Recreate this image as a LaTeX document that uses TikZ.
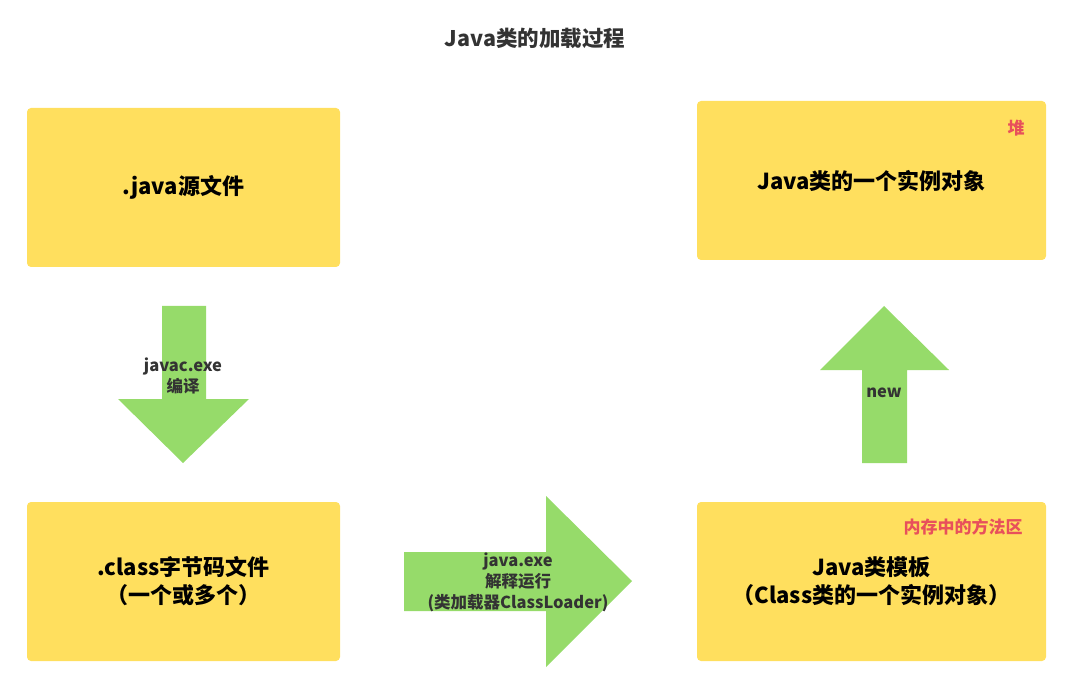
\documentclass[tikz,border=0pt]{standalone}
\usepackage{fontspec}
\setmainfont{Noto Sans CJK SC}
\definecolor{boxyellow}{RGB}{255,223,94}
\definecolor{arrowgreen}{RGB}{150,219,106}
\definecolor{labelgray}{RGB}{51,51,51}
\definecolor{memred}{RGB}{232,80,91}
\tikzset{
  stagebox/.style={fill=boxyellow,rounded corners=4pt,align=center,font=\bfseries\fontsize{22}{28}\selectfont},
  flowlabel/.style={text=labelgray,align=center,font=\bfseries\fontsize{16.5}{21}\selectfont},
  memlabel/.style={text=memred,font=\bfseries\fontsize{17}{20}\selectfont}
}
\begin{document}
\begin{tikzpicture}[x=1pt,y=-1pt]
    \useasboundingbox (0,0) rectangle (1081,700);
    \node[text=labelgray,font=\bfseries\fontsize{21.5}{26}\selectfont] (title) at (535,38) {Java类的加载过程};
    % boxes
    \node[stagebox,minimum width=313pt,minimum height=159pt] (src) at (183.5,187.5) {.java源文件};
    \node[stagebox,minimum width=313pt,minimum height=159pt] (cls) at (183.5,581.5) {.class字节码文件\\（一个或多个）};
    \node[stagebox,minimum width=349pt,minimum height=159pt] (tpl) at (871.5,581.5) {Java类模板\\（Class类的一个实例对象）};
    \node[stagebox,minimum width=349pt,minimum height=159pt] (obj) at (871.5,180.5) {Java类的一个实例对象};
    \node[memlabel] (method) at (963,527) {内存中的方法区};
    \node[memlabel] (heap) at (1016,128) {堆};
    % fat arrows
    \fill[arrowgreen] (162,306) -- (206,306) -- (206,399) -- (249,399) -- (183,463) -- (118,399) -- (162,399) -- cycle;
    \fill[arrowgreen] (404,552) -- (546,552) -- (546,496) -- (632,581) -- (546,667) -- (546,611) -- (404,611) -- cycle;
    \fill[arrowgreen] (862,463) -- (862,370) -- (820,370) -- (884,306) -- (949,370) -- (907,370) -- (907,463) -- cycle;
    \node[flowlabel] (compile) at (183,376) {javac.exe\\编译};
    \node[flowlabel] (run) at (518,582) {java.exe\\解释运行\\(类加载器ClassLoader)};
    \node[flowlabel] (new) at (884,393) {new};
\end{tikzpicture}
\end{document}
